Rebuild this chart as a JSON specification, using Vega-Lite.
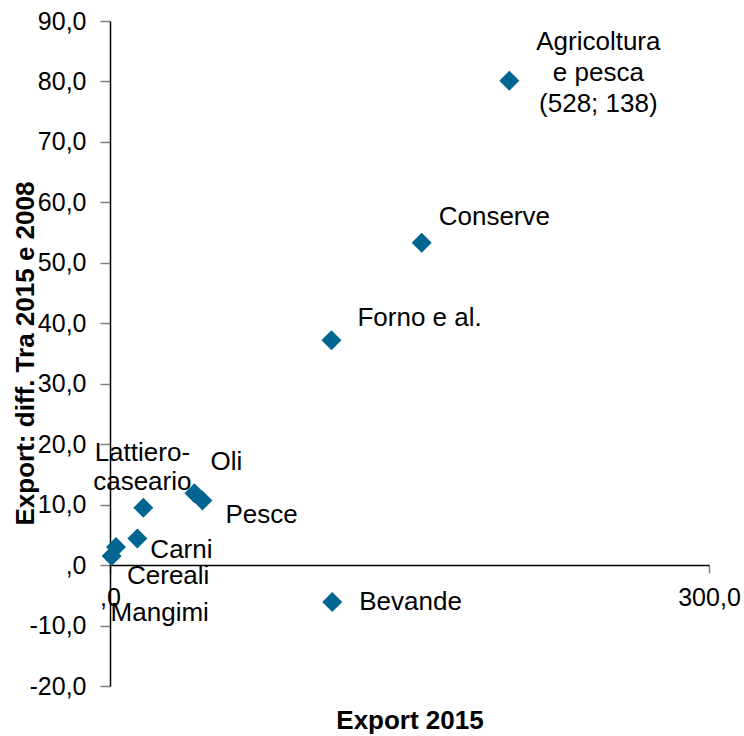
{
  "$schema": "https://vega.github.io/schema/vega-lite/v6.json",
  "width": 599,
  "height": 665,
  "autosize": {"type": "none"},
  "padding": {"left": 110, "top": 21, "right": 35, "bottom": 50},
  "background": "white",
  "config": {
    "view": {"stroke": null},
    "font": "Liberation Sans",
    "axis": {"grid": false, "labelFont": "Liberation Sans", "titleFont": "Liberation Sans", "labelColor": "#000", "titleColor": "#000", "labelFontSize": 25, "titleFontSize": 26, "titleFontWeight": "bold", "domainColor": "#000", "domainWidth": 1.5, "tickColor": "#808080", "tickWidth": 1.5}
  },
  "data": {"values": [
    {"settore": "Agricoltura e pesca", "export2015": 200, "diff": 80.1},
    {"settore": "Conserve", "export2015": 156.1, "diff": 53.3},
    {"settore": "Forno e al.", "export2015": 110.9, "diff": 37.2},
    {"settore": "Bevande", "export2015": 111.3, "diff": -6.1},
    {"settore": "Oli", "export2015": 42.3, "diff": 11.9},
    {"settore": "Pesce", "export2015": 46.3, "diff": 10.7},
    {"settore": "Lattiero-caseario", "export2015": 16.7, "diff": 9.5},
    {"settore": "Carni", "export2015": 13.7, "diff": 4.4},
    {"settore": "Cereali", "export2015": 3.0, "diff": 3.0},
    {"settore": "Mangimi", "export2015": 0.8, "diff": 1.5}
  ]},
  "encoding": {
    "x": {"field": "export2015", "type": "quantitative",
      "scale": {"domain": [0, 300], "nice": false, "zero": false},
      "axis": {"title": "Export 2015", "values": [0, 300], "offset": -121, "tickSize": 8, "labelPadding": 12,
        "labelExpr": "datum.value == 0 ? ',0' : replace(format(datum.value, '.1f'), '.', ',')",
        "titleY": 155, "titleBaseline": "middle", "labelFlush": false}},
    "y": {"field": "diff", "type": "quantitative",
      "scale": {"domain": [-20, 90], "nice": false, "zero": false},
      "axis": {"title": "Export: diff. Tra 2015 e 2008", "values": [-20, -10, 0, 10, 20, 30, 40, 50, 60, 70, 80, 90],
        "tickSize": 10, "labelPadding": 14,
        "labelExpr": "datum.value == 0 ? ',0' : replace(replace(format(datum.value, '.1f'), '.', ','), '\u2212', '-')",
        "titleX": -85, "titleY": 332, "titleAngle": 270, "titleBaseline": "middle", "titleAlign": "center", "labelFlush": false}}
  },
  "layer": [
    {"mark": {"type": "point", "shape": "diamond", "filled": true, "size": 400, "color": "#006591", "opacity": 1}},
    {"transform": [{"filter": "datum.settore == 'Agricoltura e pesca'"}],
     "mark": {"type": "text", "fontSize": 26, "align": "center", "baseline": "middle", "dx": 89, "dy": -39, "lineBreak": "|", "lineHeight": 31, "color": "#000"},
     "encoding": {"text": {"value": "Agricoltura|e pesca|(528; 138)"}}},
    {"transform": [{"filter": "datum.settore == 'Lattiero-caseario'"}],
     "mark": {"type": "text", "fontSize": 26, "align": "center", "baseline": "middle", "dx": -1, "dy": -55, "lineBreak": "|", "lineHeight": 29, "color": "#000"},
     "encoding": {"text": {"value": "Lattiero-|caseario"}}},
    {"transform": [{"filter": "datum.settore == 'Conserve'"}],
     "mark": {"type": "text", "fontSize": 26, "align": "left", "baseline": "middle", "dx": 17, "dy": -26, "color": "#000"},
     "encoding": {"text": {"field": "settore"}}},
    {"transform": [{"filter": "datum.settore == 'Forno e al.'"}],
     "mark": {"type": "text", "fontSize": 26, "align": "left", "baseline": "middle", "dx": 26, "dy": -22, "color": "#000"},
     "encoding": {"text": {"field": "settore"}}},
    {"transform": [{"filter": "datum.settore == 'Bevande'"}],
     "mark": {"type": "text", "fontSize": 26, "align": "left", "baseline": "middle", "dx": 27, "dy": 0, "color": "#000"},
     "encoding": {"text": {"field": "settore"}}},
    {"transform": [{"filter": "datum.settore == 'Oli'"}],
     "mark": {"type": "text", "fontSize": 26, "align": "left", "baseline": "middle", "dx": 16, "dy": -31, "color": "#000"},
     "encoding": {"text": {"field": "settore"}}},
    {"transform": [{"filter": "datum.settore == 'Pesce'"}],
     "mark": {"type": "text", "fontSize": 26, "align": "left", "baseline": "middle", "dx": 23, "dy": 15, "color": "#000"},
     "encoding": {"text": {"field": "settore"}}},
    {"transform": [{"filter": "datum.settore == 'Carni'"}],
     "mark": {"type": "text", "fontSize": 26, "align": "left", "baseline": "middle", "dx": 13, "dy": 12, "color": "#000"},
     "encoding": {"text": {"field": "settore"}}},
    {"transform": [{"filter": "datum.settore == 'Cereali'"}],
     "mark": {"type": "text", "fontSize": 26, "align": "left", "baseline": "middle", "dx": 11, "dy": 29, "color": "#000"},
     "encoding": {"text": {"field": "settore"}}},
    {"transform": [{"filter": "datum.settore == 'Mangimi'"}],
     "mark": {"type": "text", "fontSize": 26, "align": "left", "baseline": "middle", "dx": -1, "dy": 57, "color": "#000"},
     "encoding": {"text": {"field": "settore"}}}
  ]
}
